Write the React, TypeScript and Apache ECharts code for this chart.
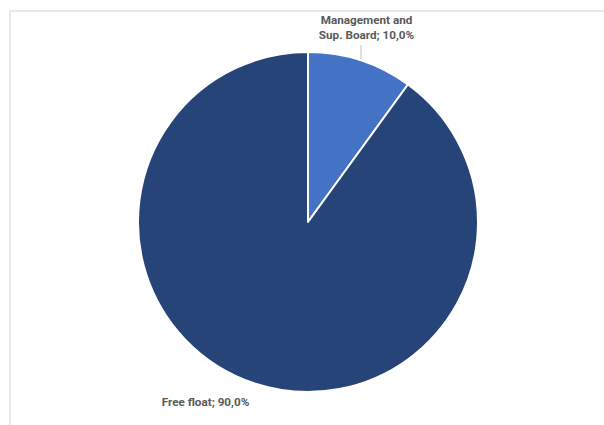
import React, { useEffect, useRef } from "react";
import * as echarts from "echarts";

const categories = ["Management and\nSup. Board", "Free float"];
const values = [10, 90];
const colors = ["#4472C4", "#264478"];

export default function App() {
  const ref = useRef<HTMLDivElement>(null);
  useEffect(() => {
    document.body.style.margin = "0";
    const chart = echarts.init(ref.current!, null, { renderer: "svg" });
    const labelPos = [
      { x: 366.5, y: 27.5 },
      { x: 205.5, y: 402 },
    ];
    chart.setOption({
      animation: false,
      backgroundColor: "#ffffff",
      graphic: [
        {
          type: "rect",
          shape: { x: 10, y: 11, width: 700, height: 500 },
          style: { fill: "none", stroke: "#e8e8e8", lineWidth: 2 },
          silent: true,
        },
        {
          type: "line",
          shape: { x1: 361, y1: 45, x2: 361, y2: 61 },
          style: { stroke: "#bfbfbf", lineWidth: 1 },
          silent: true,
        },
      ],
      series: [
        {
          type: "pie",
          center: [308, 222],
          radius: 170,
          startAngle: 90,
          clockwise: true,
          data: categories.map((c, i) => ({
            name: c,
            value: values[i],
            itemStyle: { color: colors[i] },
          })),
          itemStyle: { borderColor: "#ffffff", borderWidth: 2 },
          label: {
            show: true,
            position: "outside",
            fontFamily: "Roboto",
            fontWeight: "bold",
            fontSize: 11.7,
            lineHeight: 15,
            color: "#595959",
            align: "center",
            formatter: (p: any) =>
              `${p.name}; ${p.percent.toFixed(1).replace(".", ",")}%`,
          },
          labelLine: { show: false },
          labelLayout: (params: any) => {
            const pos = labelPos[params.dataIndex];
            return {
              x: pos.x,
              y: pos.y,
              align: "center",
              verticalAlign: "middle",
            };
          },
          emphasis: { disabled: true },
        },
      ],
    });
    return () => chart.dispose();
  }, []);
  return (
    <div
      ref={ref}
      style={{ position: "fixed", left: 0, top: 0, width: 604, height: 425 }}
    />
  );
}
